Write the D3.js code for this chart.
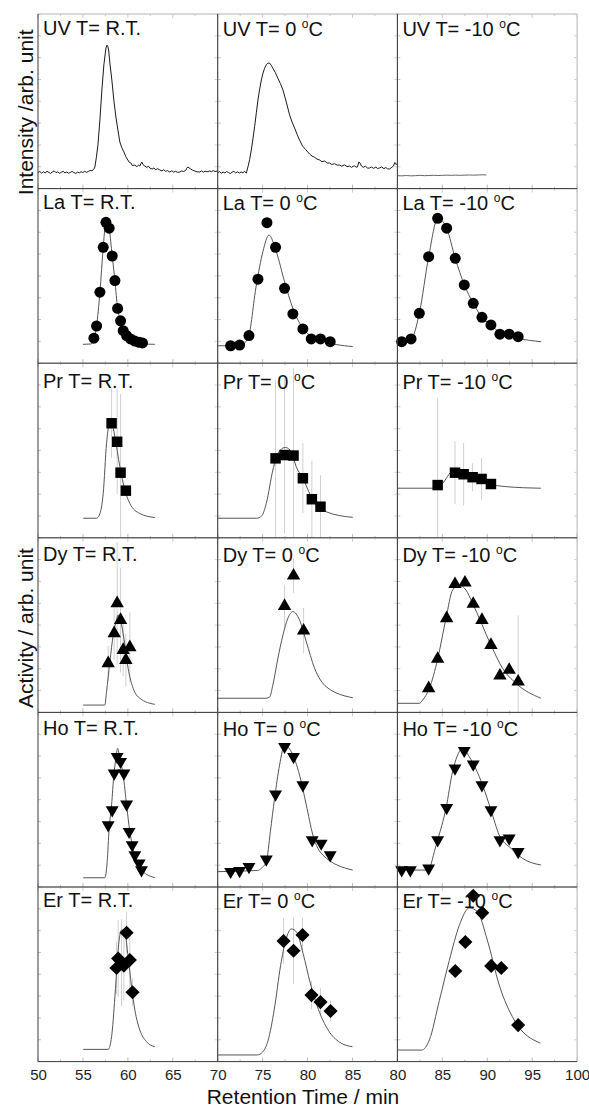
<!DOCTYPE html>
<html>
<head>
<meta charset="utf-8">
<script src="https://cdn.jsdelivr.net/npm/d3@7"></script>
<style>
  body { margin: 0; background: #fff; }
  svg { display: block; font-family: "Liberation Sans", Arial, sans-serif; }
</style>
</head>
<body>
<svg id="chart" width="589" height="1115"></svg>
<script>
// ---------- axis settings ----------
const elements = ["UV", "La", "Pr", "Dy", "Ho", "Er"];
const temps = ["R.T.", "0", "-10"];
const xDomains = [[50, 70], [70, 90], [80, 100]];
const xTickValues = [[50, 55, 60, 65], [70, 75, 80, 85], [80, 85, 90, 95, 100]];
const yDomain = [0, 100];

// ---------- UV chromatograms: [time / min, intensity] ----------
const uvRT = [[50.0,9.2],[50.2,9.8],[50.4,8.9],[50.6,9.6],[50.8,9.0],[51.0,9.9],[51.2,9.3],[51.4,8.7],[51.6,9.5],[51.8,10.2],[52.0,9.1],[52.2,9.6],[52.4,8.8],[52.6,9.4],[52.8,9.9],[53.0,9.0],[53.2,9.5],[53.4,8.8],[53.6,9.3],[53.8,9.8],[54.0,9.2],[54.2,8.7],[54.4,9.4],[54.6,9.0],[54.8,9.7],[55.0,9.2],[55.2,9.9],[55.4,9.3],[55.6,9.8],[55.8,10.4],[56.0,10.2],[56.2,11.0],[56.33,12.4],[56.5,18.0],[56.67,25.0],[56.89,39.3],[57.11,56.5],[57.33,70.8],[57.56,80.5],[57.67,82.2],[57.76,81.6],[57.86,79.4],[58.0,71.9],[58.22,62.2],[58.44,50.7],[58.67,41.0],[58.89,33.6],[59.11,26.7],[59.33,23.4],[59.56,21.0],[59.78,18.2],[60.0,16.4],[60.15,15.1],[60.33,14.7],[60.5,13.2],[60.78,13.5],[61.0,12.6],[61.2,13.4],[61.33,12.9],[61.45,14.3],[61.56,15.2],[61.7,13.6],[61.89,12.9],[62.1,12.2],[62.3,12.8],[62.44,11.8],[62.7,11.2],[62.9,11.8],[63.1,10.8],[63.3,11.4],[63.56,10.7],[63.8,10.1],[64.0,10.8],[64.2,9.9],[64.4,10.3],[64.67,9.5],[64.9,10.2],[65.1,9.4],[65.3,9.9],[65.55,9.3],[65.78,9.5],[66.0,10.1],[66.2,9.8],[66.44,10.4],[66.55,11.6],[66.67,12.4],[66.8,11.9],[67.0,11.2],[67.2,10.6],[67.44,10.1],[67.7,9.6],[68.0,9.5],[68.2,10.1],[68.4,9.4],[68.6,10.0],[68.8,9.6],[69.11,10.1],[69.3,9.7],[69.5,10.3],[69.7,9.8],[70.0,10.1]];
const uv0 = [[70.0,9.1],[70.2,9.7],[70.4,8.8],[70.6,9.5],[70.8,9.0],[71.0,9.8],[71.2,9.2],[71.4,8.6],[71.6,9.4],[71.8,9.9],[72.0,9.0],[72.2,9.6],[72.4,8.9],[72.6,9.5],[72.8,9.1],[73.0,9.8],[73.19,8.9],[73.37,12.5],[73.55,16.5],[73.74,22.1],[73.92,28.4],[74.11,35.5],[74.3,43.4],[74.48,50.7],[74.67,57.0],[74.86,62.2],[75.04,66.1],[75.22,68.9],[75.4,70.9],[75.59,71.8],[75.78,71.9],[75.96,70.6],[76.14,68.9],[76.42,66.4],[76.7,63.2],[76.98,60.1],[77.26,56.5],[77.63,49.6],[78.0,42.2],[78.28,38.1],[78.56,34.7],[78.84,31.0],[79.11,27.8],[79.44,24.4],[79.8,22.3],[80.22,19.8],[80.5,18.6],[80.8,17.9],[81.05,16.9],[81.33,16.4],[81.6,15.4],[81.9,15.8],[82.2,14.6],[82.44,14.7],[82.7,13.8],[83.0,14.3],[83.3,13.4],[83.56,13.5],[83.8,12.8],[84.1,13.6],[84.4,12.6],[84.67,12.9],[84.9,12.2],[85.2,13.1],[85.4,12.3],[85.56,12.4],[85.7,15.2],[85.85,14.6],[86.0,12.9],[86.2,12.2],[86.45,12.8],[86.7,11.7],[86.89,11.8],[87.1,12.4],[87.35,11.6],[87.6,12.3],[87.8,11.5],[88.0,11.8],[88.25,12.4],[88.5,11.4],[88.7,12.1],[88.9,11.3],[89.11,11.2],[89.3,11.9],[89.56,12.9],[89.7,14.9],[89.78,14.7],[89.9,13.5]];
const uvM10 = [[80.0,7.4],[80.5,7.3],[81.0,7.5],[81.5,7.3],[82.0,7.4],[82.5,7.6],[83.0,7.4],[83.5,7.5],[84.0,7.6],[84.5,7.5],[85.0,7.6],[85.5,7.7],[86.0,7.6],[86.5,7.7],[87.0,7.6],[87.5,7.7],[88.0,7.8],[88.5,7.7],[89.0,7.8],[89.5,7.9],[89.9,7.8]];

// ---------- activity fractions: [time / min, activity, error] ----------
const laRT = [[57.56,80.7,0],[57.92,77.3,0],[57.26,66.4,0],[58.26,61.4,0],[58.56,47.3,0],[56.89,40.7,0],[58.86,31.4,0],[59.19,24.3,0],[56.52,21.3,0],[59.48,18.6,0],[56.22,14.3,0],[59.86,15.8,0],[60.30,13.9,0],[60.78,12.7,0],[61.26,12.0,0],[61.63,11.6,0]];
const la0 = [[71.44,10.0,0],[72.44,10.4,0],[73.48,15.8,0],[74.48,48.1,0],[75.48,80.5,0],[76.44,66.4,0],[77.44,42.9,0],[78.37,28.2,0],[79.48,19.6,0],[80.41,13.9,0],[81.44,13.9,0],[82.52,12.3,0]];
const laM10 = [[80.48,12.3,0],[81.52,13.9,0],[82.44,28.6,0],[83.48,61.0,0],[84.48,83.0,0],[85.48,77.3,0],[86.44,60.1,0],[87.44,44.8,0],[88.44,34.3,0],[89.41,26.3,0],[90.41,21.9,0],[91.41,16.6,0],[92.44,16.6,0],[93.44,15.2,0]];

const prRT = [[58.19,65.6,20],[58.81,55.0,30],[59.19,37.3,45],[59.78,27.0,0]];
const pr0 = [[76.44,45.5,45],[77.44,47.4,45],[78.44,47.1,50],[79.48,34.1,20],[80.48,22.1,22],[81.44,17.8,18]];
const prM10 = [[84.48,30.2,50],[86.41,37.3,18],[87.37,36.4,18],[88.37,34.7,8],[89.37,33.7,12],[90.41,30.8,0]];

const dyRT = [[58.81,62.5,35],[59.19,52.9,30],[58.48,45.3,15],[60.22,37.3,20],[59.48,35.7,15],[59.78,30.0,15],[57.81,28.1,10]];
const dy0 = [[77.44,60.9,12],[78.44,78.3,10],[79.56,46.8,13]];
const dyM10 = [[83.48,13.8,0],[84.48,30.6,0],[85.48,53.9,0],[86.41,73.4,0],[87.52,74.3,0],[88.44,62.1,0],[89.41,52.9,0],[90.41,38.6,0],[91.41,21.0,0],[92.44,24.3,0],[93.44,17.6,38]];

const hoRT = [[58.81,74.6,0],[59.19,71.8,0],[58.48,65.1,0],[59.56,65.1,0],[59.86,47.4,0],[58.26,44.1,0],[57.81,35.5,0],[60.14,31.7,0],[60.48,24.1,0],[60.78,18.3,0],[61.26,13.6,0],[61.52,9.7,0]];
const ho0 = [[71.44,8.8,0],[72.44,9.3,0],[73.48,11.6,0],[75.41,15.9,0],[76.44,53.1,0],[77.44,80.4,0],[78.44,74.6,0],[79.48,58.4,0],[80.52,26.9,0],[81.52,25.0,0],[82.52,18.3,0]];
const hoM10 = [[80.48,9.7,0],[81.44,9.7,0],[83.48,10.7,0],[84.48,26.9,0],[85.48,45.4,0],[86.41,68.0,0],[87.44,78.1,0],[88.44,70.3,0],[89.41,58.4,0],[90.41,44.1,0],[91.41,26.9,0],[92.44,27.9,0],[93.44,20.2,0]];

const erRT = [[59.86,73.8,12],[58.92,59.0,22],[60.22,58.2,18],[59.30,56.5,25],[58.74,53.6,15],[59.56,55.0,20],[60.52,39.7,8]];
const er0 = [[77.33,69.1,13],[78.44,63.5,19],[79.44,72.5,10],[80.44,38.1,8],[81.44,34.1,8],[82.56,29.0,6]];
const erM10 = [[86.44,51.9,0],[87.56,68.5,0],[88.44,95.0,0],[89.44,85.2,0],[90.44,54.8,0],[91.56,53.6,0],[93.44,20.9,0]];

// ---------- fitted elution curves: [time / min, activity] ----------
const laRTFit = [[55.0,10.8],[55.9,11.0],[56.22,14.3],[56.52,21.3],[56.89,40.7],[57.26,66.4],[57.5,80.0],[57.65,83.0],[57.92,77.3],[58.26,61.4],[58.56,47.3],[58.86,31.4],[59.19,24.3],[59.48,18.6],[59.86,15.0],[60.3,13.0],[60.8,12.0],[61.5,11.2],[62.2,10.9],[63.0,10.8]];
const la0Fit = [[70.0,10.0],[72.44,10.0],[73.37,14.3],[74.3,44.8],[75.03,63.9],[75.7,73.4],[76.52,63.9],[77.44,46.7],[78.37,31.4],[79.48,20.0],[81.33,13.3],[85.03,9.5]];
const laM10Fit = [[80.0,12.0],[81.5,13.5],[82.44,28.6],[83.48,61.0],[84.5,83.0],[85.48,77.3],[86.44,60.0],[87.44,45.0],[88.44,34.3],[89.41,26.3],[90.41,21.9],[91.41,17.5],[92.44,15.5],[93.44,14.2],[96.0,12.3]];

const prRTFit = [[55.03,11.2],[56.52,11.2],[56.83,13.1],[57.26,25.5],[57.63,54.1],[57.92,65.5],[58.08,67.4],[58.56,57.9],[59.11,40.7],[59.67,27.3],[60.22,19.7],[61.33,13.9],[63.0,11.6]];
const pr0Fit = [[70.03,11.2],[74.3,11.2],[74.89,12.5],[75.41,19.8],[76.14,38.8],[76.7,48.4],[77.52,51.8],[78.19,49.3],[78.74,40.7],[79.48,34.1],[80.59,21.6],[82.08,14.9],[85.03,11.7]];
const prM10Fit = [[79.97,28.4],[84.3,28.4],[84.48,28.8],[85.03,31.2],[86.14,37.9],[87.26,37.1],[90.22,30.8],[92.08,29.3],[95.97,28.4]];

const dyRTFit = [[55.03,4.2],[57.44,4.2],[57.63,11.9],[58.0,29.0],[58.37,44.3],[58.74,52.9],[58.92,55.8],[59.3,50.1],[59.67,38.6],[60.03,25.3],[60.59,13.8],[61.33,8.1],[63.0,4.6]];
const dy0Fit = [[70.0,8.1],[75.41,8.1],[75.78,8.8],[76.14,15.7],[76.7,31.0],[77.26,44.3],[77.81,53.9],[78.37,57.7],[79.11,52.9],[79.86,40.5],[80.78,25.3],[82.08,14.7],[85.03,8.4]];
const dyM10Fit = [[79.97,5.2],[82.44,5.2],[82.81,7.1],[83.56,13.8],[84.48,30.6],[85.41,53.9],[86.14,70.1],[86.89,73.0],[87.63,70.1],[88.37,62.5],[90.41,38.6],[91.7,25.3],[93.19,16.7],[95.97,8.1]];

const hoRTFit = [[55.03,5.3],[57.44,5.3],[57.7,14.5],[57.92,33.6],[58.19,47.0],[58.44,64.1],[58.67,73.7],[58.86,79.4],[59.11,73.7],[59.48,64.1],[59.86,47.0],[60.22,31.7],[60.59,22.2],[61.33,10.7],[63.0,5.3]];
const ho0Fit = [[70.03,8.8],[74.44,9.5],[74.89,10.9],[75.41,14.5],[75.86,31.7],[76.33,50.8],[76.89,69.9],[77.44,81.3],[78.19,77.5],[79.11,64.1],[79.86,47.0],[80.59,29.8],[81.7,18.3],[85.03,9.7]];
const hoM10Fit = [[79.97,9.7],[83.33,9.7],[83.67,12.0],[84.11,20.2],[84.48,26.9],[85.41,45.1],[86.14,66.0],[86.89,77.5],[87.26,79.4],[88.0,74.6],[89.48,58.4],[90.41,44.1],[91.33,29.8],[92.63,22.2],[93.92,16.4],[95.97,12.6]];

const erRTFit = [[55.03,7.0],[57.81,7.0],[58.19,14.3],[58.56,37.2],[58.81,56.3],[59.03,69.6],[59.3,75.4],[59.67,73.5],[60.03,60.1],[60.41,42.9],[60.78,29.6],[61.33,18.1],[62.08,11.4],[63.0,8.5]];
const er0Fit = [[70.0,3.8],[74.4,3.8],[75.0,5.5],[75.6,12.0],[76.3,30.0],[77.0,55.0],[77.6,70.0],[78.2,76.0],[78.8,74.0],[79.5,62.0],[80.3,45.0],[81.2,30.0],[82.3,18.0],[83.6,11.0],[85.0,8.5]];
const erM10Fit = [[80.0,6.6],[82.7,6.6],[83.56,12.4],[84.67,35.0],[85.78,58.0],[86.89,78.0],[88.0,88.0],[88.89,86.0],[90.0,69.7],[91.33,43.9],[93.0,23.8],[95.9,10.6]];

// ---------- panel table ----------
const uvTraces = [uvRT, uv0, uvM10];
const activity = {
  La: [[laRT, laRTFit], [la0, la0Fit], [laM10, laM10Fit]],
  Pr: [[prRT, prRTFit], [pr0, pr0Fit], [prM10, prM10Fit]],
  Dy: [[dyRT, dyRTFit], [dy0, dy0Fit], [dyM10, dyM10Fit]],
  Ho: [[hoRT, hoRTFit], [ho0, ho0Fit], [hoM10, hoM10Fit]],
  Er: [[erRT, erRTFit], [er0, er0Fit], [erM10, erM10Fit]]
};

// ---------- layout ----------
const gridLeft = 38, gridTop = 14, colW = 179.7, rowH = 174.6;
const labelBase = [21, 20, 25, 23, 23, 20];
const marker = {
  La: { type: d3.symbolCircle, size: 95, rot: 0 },
  Pr: { type: d3.symbolSquare, size: 110, rot: 0 },
  Dy: { type: d3.symbolTriangle, size: 78, rot: 0 },
  Ho: { type: d3.symbolTriangle, size: 72, rot: 180 },
  Er: { type: d3.symbolSquare, size: 100, rot: 45 }
};

const svg = d3.select("#chart");
const light = svg.append("g"), body = svg.append("g"), dark = svg.append("g");

elements.forEach((el, r) => {
  temps.forEach((tp, c) => {
    const x0 = gridLeft + c * colW, y0 = gridTop + r * rowH;
    const x = d3.scaleLinear().domain(xDomains[c]).range([0, colW]);
    const y = d3.scaleLinear().domain(yDomain).range([rowH, 0]);
    const id = `clip-${r}-${c}`;
    svg.append("clipPath").attr("id", id)
      .append("rect").attr("width", colW).attr("height", rowH);

    // top and right frame lines are light, left and bottom axes dark
    const lg = light.append("g").attr("transform", `translate(${x0},${y0})`);
    lg.append("line").attr("x1", 0).attr("x2", colW).attr("y1", 0).attr("y2", 0);
    lg.append("line").attr("x1", colW).attr("x2", colW).attr("y1", 0).attr("y2", rowH);
    lg.selectAll("line").attr("stroke", "#b4b4b4").attr("stroke-width", 1);
    // faint inward ticks on all four sides
    const tks = d3.range(xDomains[c][0], xDomains[c][1] + 0.01, 2.5);
    lg.selectAll(".tb").data(tks).join("line")
      .attr("x1", d => x(d)).attr("x2", d => x(d))
      .attr("y1", rowH).attr("y2", d => rowH - (d % 5 === 0 ? 4 : 2))
      .attr("stroke", "#bbb");
    lg.selectAll(".tt").data(tks).join("line")
      .attr("x1", d => x(d)).attr("x2", d => x(d))
      .attr("y1", 0).attr("y2", d => (d % 5 === 0 ? 4 : 2))
      .attr("stroke", "#ccc");
    const vt = d3.range(0, 101, 12.5);
    lg.selectAll(".tl").data(vt).join("line")
      .attr("x1", 0).attr("x2", 3).attr("y1", d => y(d)).attr("y2", d => y(d))
      .attr("stroke", "#c4c4c4");
    lg.selectAll(".tr").data(vt).join("line")
      .attr("x1", colW).attr("x2", colW - 3).attr("y1", d => y(d)).attr("y2", d => y(d))
      .attr("stroke", "#d0d0d0");

    const dg = dark.append("g").attr("transform", `translate(${x0},${y0})`);
    dg.append("line").attr("x1", 0).attr("x2", 0).attr("y1", 0).attr("y2", rowH);
    dg.append("line").attr("x1", 0).attr("x2", colW).attr("y1", rowH).attr("y2", rowH);
    dg.selectAll("line").attr("stroke", "#3a3a3a").attr("stroke-width", 1);

    const g = body.append("g").attr("transform", `translate(${x0},${y0})`);
    const plot = g.append("g").attr("clip-path", `url(#${id})`);
    const line = d3.line().x(d => x(d[0])).y(d => y(d[1]));

    if (el === "UV") {
      plot.append("path").datum(uvTraces[c])
        .attr("d", line)
        .attr("fill", "none")
        .attr("stroke", c === 2 ? "#666" : "#1a1a1a")
        .attr("stroke-width", 1);
    } else {
      const [pts, fit] = activity[el][c];
      // error bars
      plot.selectAll(".err").data(pts.filter(d => d[2] > 0)).join("line")
        .attr("x1", d => x(d[0])).attr("x2", d => x(d[0]))
        .attr("y1", d => y(d[1] - d[2])).attr("y2", d => y(d[1] + d[2]))
        .attr("stroke", "#d0d0d0").attr("stroke-width", 1);
      // fitted curve
      plot.append("path").datum(fit)
        .attr("d", line.curve(d3.curveMonotoneX))
        .attr("fill", "none").attr("stroke", "#555").attr("stroke-width", 1);
      // measured points
      const m = marker[el];
      const sym = d3.symbol().type(m.type).size(m.size);
      g.selectAll(".pt").data(pts).join("path")
        .attr("d", sym)
        .attr("transform", d => `translate(${x(d[0])},${y(d[1])}) rotate(${m.rot})`)
        .attr("fill", "#000");
    }

    // panel label
    const t = g.append("text")
      .attr("x", 5).attr("y", labelBase[r] + (c > 0 ? 1 : 0))
      .attr("font-size", 20).attr("fill", "#111");
    if (tp === "R.T.") {
      t.text(`${el} T= R.T.`);
    } else {
      t.append("tspan").text(`${el} T= ${tp} `);
      t.append("tspan").attr("font-size", 12).attr("dy", -8).text("o");
      t.append("tspan").attr("dy", 8).text("C");
    }

    // bottom tick labels on the last row
    if (r === elements.length - 1) {
      const ax = d3.axisBottom(x).tickValues(xTickValues[c]).tickSize(0).tickPadding(8)
        .tickFormat(d3.format("d"));
      const a = g.append("g").attr("transform", `translate(0,${rowH})`).call(ax);
      a.select(".domain").remove();
      a.selectAll("text").attr("font-size", 15).attr("fill", "#222")
        .attr("font-family", "'Liberation Sans', Arial, sans-serif");
    }
  });
});

// axis titles
svg.append("text")
  .attr("transform", `translate(33,${gridTop + rowH / 2 + 11}) rotate(-90)`)
  .attr("text-anchor", "middle").attr("font-size", 21).attr("fill", "#111")
  .text("Intensity /arb. unit");
svg.append("text")
  .attr("transform", `translate(33,628) rotate(-90)`)
  .attr("text-anchor", "middle").attr("font-size", 21).attr("fill", "#111")
  .text("Activity / arb. unit");
svg.append("text")
  .attr("x", 303).attr("y", 1104)
  .attr("text-anchor", "middle").attr("font-size", 21).attr("fill", "#111")
  .text("Retention Time / min");
</script>
</body>
</html>
